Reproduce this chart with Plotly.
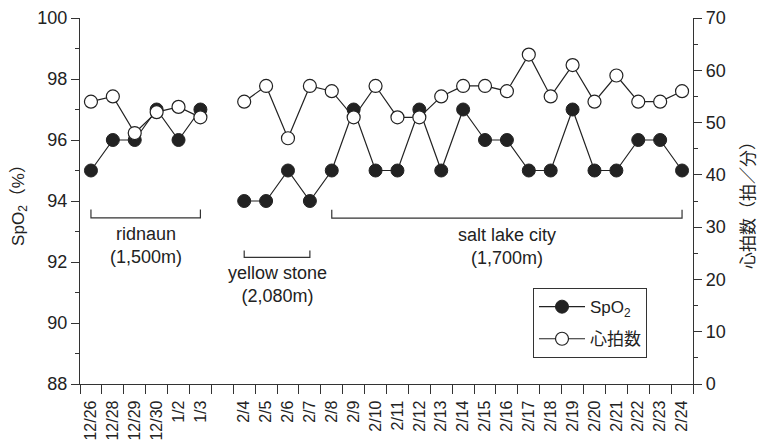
import plotly.graph_objects as go

# Measurement days (a blank slot separates the December/January trip from February)
DATES = ["12/26", "12/28", "12/29", "12/30", "1/2", "1/3", " ",
         "2/4", "2/5", "2/6", "2/7", "2/8", "2/9", "2/10", "2/11", "2/12",
         "2/13", "2/14", "2/15", "2/16", "2/17", "2/18", "2/19", "2/20",
         "2/21", "2/22", "2/23", "2/24"]

# Oxygen saturation (%)
SPO2 = [95, 96, 96, 97, 96, 97, None,
        94, 94, 95, 94, 95, 97, 95, 95, 97,
        95, 97, 96, 96, 95, 95, 97, 95,
        95, 96, 96, 95]

# Heart rate (beats / min)
HEART_RATE = [54, 55, 48, 52, 53, 51, None,
              54, 57, 47, 57, 56, 51, 57, 51, 51,
              55, 57, 57, 56, 63, 55, 61, 54,
              59, 54, 54, 56]

# Stay locations: name, altitude, first and last day
PLACES = ["ridnaun", "yellow stone", "salt lake city"]
ALTITUDES = ["1,500m", "2,080m", "1,700m"]
PLACE_START = ["12/26", "2/4", "2/8"]
PLACE_END = ["1/3", "2/7", "2/24"]

FONT = "Liberation Sans, Arial, Noto Sans CJK JP, sans-serif"
INK = "#222222"
AXIS = "#333333"

fig = go.Figure()

fig.add_trace(go.Scatter(
    x=DATES, y=SPO2, name="SpO<sub>2</sub>", yaxis="y", legendgroup="a",
    mode="lines+markers",
    line=dict(color=INK, width=1.2),
    marker=dict(symbol="circle", size=13, color=INK,
                line=dict(color=INK, width=1)),
))
fig.add_trace(go.Scatter(
    x=DATES, y=HEART_RATE, name="心拍数", yaxis="y2", legendgroup="b",
    mode="lines+markers",
    line=dict(color=INK, width=1.2),
    marker=dict(symbol="circle", size=13, color="white",
                line=dict(color=INK, width=1.2)),
))

# Bracket levels (paper y) for each stay, and the label centre below it
bracket_top = [0.477, 0.365, 0.476]
bracket_bottom = [0.454, 0.346, 0.453]
label_y = [0.379, 0.272, 0.376]

for i, place in enumerate(PLACES):
    x0 = DATES.index(PLACE_START[i])
    x1 = DATES.index(PLACE_END[i])
    fig.add_shape(
        type="path",
        xref="x", yref="paper",
        path=(f"M {x0},{bracket_top[i]} L {x0},{bracket_bottom[i]} "
              f"L {x1},{bracket_bottom[i]} L {x1},{bracket_top[i]}"),
        line=dict(color=AXIS, width=1.2),
    )
    fig.add_annotation(
        x=(x0 + x1) / 2, y=label_y[i], xref="x", yref="paper",
        text=f"{place}<br>({ALTITUDES[i]})",
        showarrow=False, align="center", yanchor="middle",
        font=dict(family=FONT, size=18, color=INK),
    )

fig.update_layout(
    width=760, height=442,
    margin=dict(l=80, r=67, t=18, b=58),
    paper_bgcolor="white", plot_bgcolor="white",
    font=dict(family=FONT, size=17, color=INK),
    showlegend=True,
    legend=dict(
        x=0.739, y=0.262, xanchor="left", yanchor="top",
        bordercolor=AXIS, borderwidth=1, bgcolor="white",
        font=dict(family=FONT, size=17, color=INK),
        traceorder="grouped", tracegroupgap=7,
        itemwidth=46, entrywidth=124,
    ),
    xaxis=dict(
        type="category", categoryorder="array", categoryarray=DATES,
        range=[-0.5, len(DATES) - 0.5],
        tickson="boundaries", ticks="outside", ticklen=9,
        tickwidth=1.2, tickcolor=AXIS,
        tickangle=-90, ticklabelstandoff=9,
        tickfont=dict(family=FONT, size=16, color=INK),
        showline=True, linecolor=AXIS, linewidth=1.3,
        showgrid=False, zeroline=False, automargin=False,
    ),
    yaxis=dict(
        range=[88, 100], dtick=2, tick0=88,
        ticks="outside", ticklen=8, tickwidth=1.2, tickcolor=AXIS,
        minor=dict(dtick=1, ticks="outside", ticklen=4,
                   tickwidth=1.2, tickcolor=AXIS, showgrid=False),
        showline=True, linecolor=AXIS, linewidth=1.3,
        showgrid=False, zeroline=False, automargin=False,
        tickfont=dict(family=FONT, size=18, color=INK),
        title=dict(text="SpO<sub>2</sub>（%）", standoff=8,
                   font=dict(family=FONT, size=17, color=INK)),
    ),
    yaxis2=dict(
        range=[0, 70], dtick=10, tick0=0,
        overlaying="y", side="right", anchor="x",
        ticks="outside", ticklen=8, tickwidth=1.2, tickcolor=AXIS,
        minor=dict(dtick=5, ticks="outside", ticklen=4,
                   tickwidth=1.2, tickcolor=AXIS, showgrid=False),
        showline=True, linecolor=AXIS, linewidth=1.3,
        showgrid=False, zeroline=False, automargin=False,
        tickfont=dict(family=FONT, size=18, color=INK),
        title=dict(text="心拍数（拍／分）", standoff=17,
                   font=dict(family=FONT, size=17, color=INK)),
    ),
)

fig.write_html("out.html")
